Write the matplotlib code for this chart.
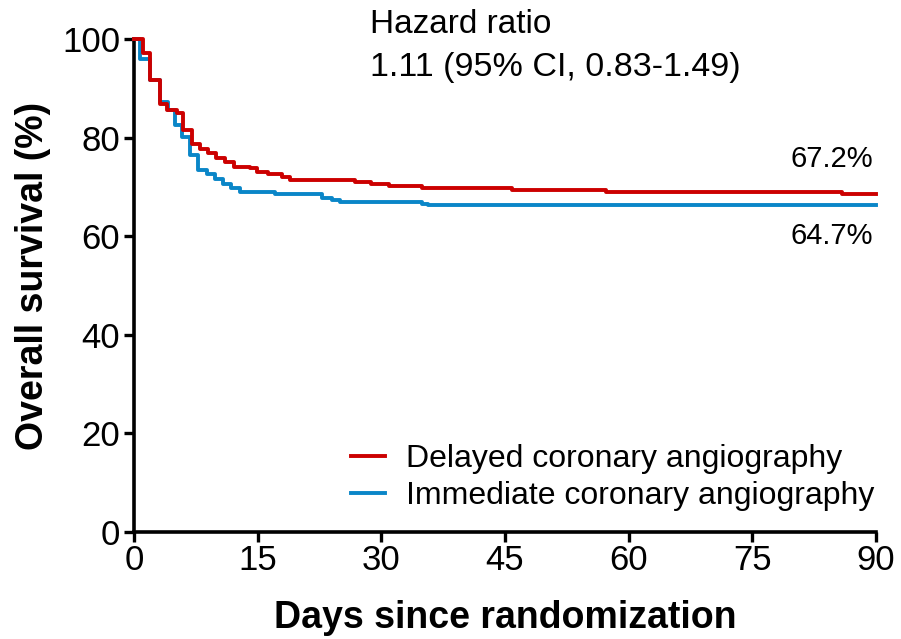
'''
Kaplan-Meier overall survival, delayed vs immediate coronary angiography
'''
import matplotlib
matplotlib.use("Agg")
import matplotlib.pyplot as plt

plt.rcParams['font.family'] = ['Liberation Sans', 'DejaVu Sans']

# step curves (days, survival %)
delayed_days = [0, 1.1, 2.0, 3.1, 4.0, 5.2, 6.0, 7.0, 8.0, 9.0, 10.0, 11.0, 12.1,
                14.1, 14.9, 16.3, 17.9, 18.9, 26.8, 28.8, 30.9, 34.9, 45.8, 57.2,
                85.9, 90]
delayed_surv = [100, 97.1, 91.7, 86.8, 85.6, 85.0, 81.5, 78.8, 77.6, 76.8, 75.8,
                75.1, 74.1, 73.8, 73.1, 72.6, 72.1, 71.3, 70.9, 70.5, 70.2, 69.7,
                69.3, 68.9, 68.6, 68.6]

immediate_days = [0, 0.7, 2.0, 3.1, 4.1, 5.0, 5.8, 6.8, 7.8, 8.8, 9.8, 10.8,
                  11.8, 12.9, 17.1, 22.8, 24.0, 25.0, 34.9, 35.7, 90]
immediate_surv = [100, 95.9, 91.7, 87.3, 85.6, 82.6, 80.2, 76.5, 73.4, 72.6, 71.7,
                  70.6, 69.7, 69.0, 68.5, 67.8, 67.3, 66.9, 66.6, 66.3, 66.3]

xticks = [0, 15, 30, 45, 60, 75, 90]
yticks = [0, 20, 40, 60, 80, 100]

red = "#CC0000"
blue = "#0A86C8"

fig = plt.figure(figsize=(9.01, 6.39), dpi=100)
ax = fig.add_axes([134/901, 1 - 532/639, (876-134)/901, (532-39)/639])

ax.step(immediate_days, immediate_surv, where='post', color=blue, lw=2.8,
        label="Immediate coronary angiography", clip_on=False, zorder=3)
ax.step(delayed_days, delayed_surv, where='post', color=red, lw=2.8,
        label="Delayed coronary angiography", clip_on=False, zorder=4)

ax.set_xlim(0, 90)
ax.set_ylim(0, 100)
ax.set_xticks(xticks)
ax.set_yticks(yticks)
for s in ['top', 'right']:
    ax.spines[s].set_visible(False)
for s in ['left', 'bottom']:
    ax.spines[s].set_linewidth(2.6)
ax.tick_params(direction='out', length=7, width=2.4, labelsize=25, pad=3)
ax.tick_params(axis='x', pad=2)
ax.set_xlabel("Days since randomization", fontsize=27, fontweight='bold', labelpad=16)
ax.set_ylabel("Overall survival (%)", fontsize=27, fontweight='bold')
ax.yaxis.set_label_coords(-0.112, 0.52)

ax.text(28.6, 103.0, "Hazard ratio", fontsize=24, ha='left', va='center', clip_on=False)
ax.text(28.6, 94.2, "1.11 (95% CI, 0.83-1.49)", fontsize=24.5, ha='left', va='center')
ax.text(89.6, 75.6, "67.2%", fontsize=21, ha='right', va='center')
ax.text(89.6, 60.0, "64.7%", fontsize=21, ha='right', va='center')

h, l = ax.get_legend_handles_labels()
ax.legend(h[::-1], l[::-1], loc='center left', bbox_to_anchor=(0.2925, 0.11),
          frameon=False, fontsize=23, handlelength=1.05, handletextpad=0.66,
          labelspacing=0.22, borderpad=0, borderaxespad=0)

fig.savefig("out.png", dpi=100)
